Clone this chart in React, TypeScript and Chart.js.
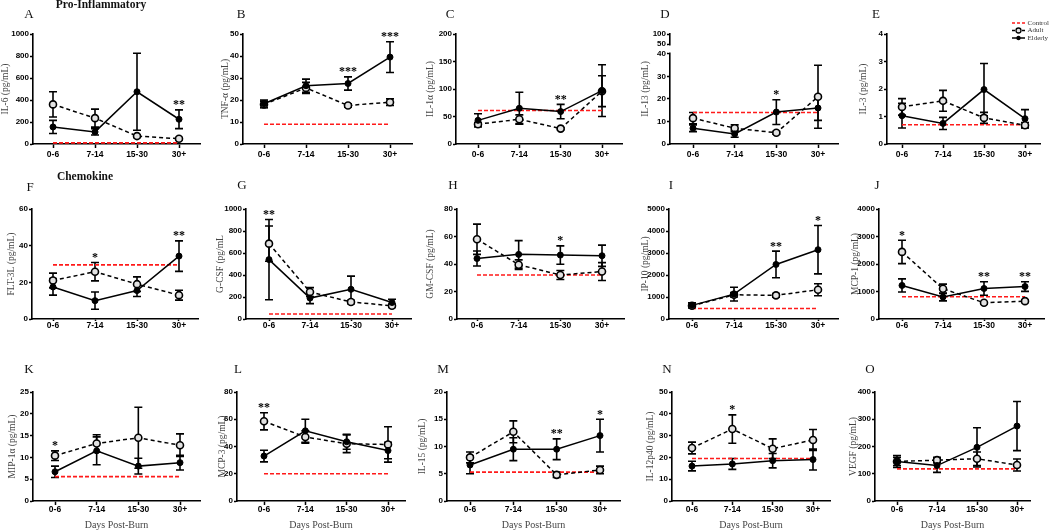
import React, { useEffect, useRef } from 'react';
import { Chart, registerables, LinearScale } from 'chart.js';

Chart.register(...registerables);

// ---------------- data ----------------
const CATEGORIES = ['0-6', '7-14', '15-30', '30+'];
const PANEL_LETTERS = ['A', 'B', 'C', 'D', 'E', 'F', 'G', 'H', 'I', 'J', 'K', 'L', 'M', 'N', 'O'];
const Y_TITLES = [
  'IL-6 (pg/mL)', 'TNF-α (pg/mL)', 'IL-1α (pg/mL)', 'IL-13 (pg/mL)', 'IL-3 (pg/mL)',
  'FLT-3L (pg/mL)', 'G-CSF (pg/mL', 'GM-CSF (pg/mL)', 'IP-10 (pg/mL)', 'MCP-1 (pg/mL)',
  'MIP-1α (pg/mL)', 'MCP-3 (pg/mL)', 'IL-15 (pg/mL)', 'IL-12p40 (pg/mL)', 'VEGF (pg/mL)',
];
const Y_MAX = [1000, 50, 200, 100, 4, 60, 1000, 80, 5000, 4000, 25, 80, 20, 50, 400];
const Y_STEP = [200, 10, 50, 10, 1, 20, 200, 20, 1000, 1000, 5, 20, 5, 10, 100];
const D_TICKS = [0, 10, 20, 30, 40, 50, 100];
const D_BREAK = [40, 50];

const ADULT_MEAN = [
  [360, 235, 72, 48],
  [18, 25.5, 17.5, 19],
  [36, 45, 28, 96],
  [11.5, 7, 5, 21],
  [1.35, 1.57, 0.95, 0.68],
  [21, 25.8, 19, 13],
  [685, 245, 155, 120],
  [58, 39.5, 32, 34.5],
  [600, 1100, 1075, 1330],
  [2440, 1100, 590, 650],
  [10.4, 13.2, 14.5, 12.8],
  [58.5, 47, 42, 41.5],
  [8, 12.7, 4.8, 5.7],
  [24.3, 33, 24, 28],
  [145, 150, 155, 132],
];
const ADULT_SEM = [
  [115, 82, 12, 10],
  [1.5, 2.5, 0.8, 1.5],
  [3, 8, 2, 28],
  [2.5, 1.5, 0.6, 14],
  [0.3, 0.38, 0.2, 0.1],
  [4, 5, 4, 2.7],
  [160, 40, 15, 15],
  [11, 3.5, 3.3, 6.5],
  [80, 100, 80, 270],
  [425, 170, 40, 50],
  [1.1, 2, 7, 2.6],
  [6.3, 4.5, 6.5, 13],
  [1, 2, 0.5, 0.7],
  [2.7, 6.5, 4.5, 4.8],
  [15, 10, 25, 22],
];
const ELDERLY_MEAN = [
  [155, 110, 475, 225],
  [18.3, 26.5, 27.5, 39.5],
  [43, 65, 59, 97],
  [7, 4.5, 14.2, 16],
  [1.03, 0.75, 1.98, 0.92],
  [17.5, 10, 15.5, 34.3],
  [540, 190, 270, 150],
  [44, 47, 46.5, 46],
  [620, 1130, 2480, 3150],
  [1220, 800, 1110, 1180],
  [6.7, 11.5, 8, 8.8],
  [33, 51.5, 43.5, 37],
  [6.6, 9.5, 9.5, 12],
  [16, 17, 18.5, 19],
  [145, 130, 197, 275],
];
const ELDERLY_SEM = [
  [60, 28, 350, 85],
  [1.7, 3, 3, 7],
  [12, 29, 13, 47],
  [1.5, 1.5, 5.5, 5.5],
  [0.45, 0.22, 0.95, 0.33],
  [4.5, 4.7, 3.2, 8.3],
  [365, 50, 120, 30],
  [5.5, 10, 6.7, 7.7],
  [120, 310, 605, 1100],
  [240, 140, 245, 175],
  [1.3, 3.2, 1.8, 1.7],
  [4.3, 8.5, 5.5, 6],
  [1.6, 2.1, 1.9, 3],
  [2.2, 2.5, 3.3, 4.8],
  [22, 25, 72, 90],
];
const CONTROL = [10, 9, 61, 14, 0.7, 29.5, 45, 32, 480, 810, 5.6, 20, 5.3, 19.5, 118];
const STARS = [
  ['', '', '', '**'],
  ['', '', '***', '***'],
  ['', '', '**', ''],
  ['', '', '*', ''],
  ['', '', '', ''],
  ['', '*', '', '**'],
  ['**', '', '', ''],
  ['', '', '*', ''],
  ['', '', '**', '*'],
  ['*', '', '**', '**'],
  ['*', '', '', ''],
  ['**', '', '', ''],
  ['', '', '**', '*'],
  ['', '*', '', ''],
  ['', '', '', ''],
];
const SECTION_TITLES = ['Pro-Inflammatory', 'Chemokine'];
const X_TITLE = 'Days Post-Burn';
const LEGEND_LABELS = ['Control', 'Adult', 'Elderly'];

// ---------------- layout / style ----------------
const SANS = "'Liberation Sans', Arial, Helvetica, sans-serif";
const SERIF = "'Liberation Serif', 'Times New Roman', Times, serif";
const W = 50; // y-axis box width
const PR = 12;
const PT = 22;
const ROW_TOP = [34, 209, 392];
const ROW_BOTTOM = [144, 319, 501];
const ROW_XAXIS_H = [22, 22, 34];
const ROW_XTICK_LEN = [4, 2, 4];
const ROW_XLABEL_PAD = [2, -0.5, 0];
// [axisX, firstCategoryX, lastCategoryX, axisEndX, yTitleDistance]
const GEOM = [
  [33, 53, 179, 200, 28],
  [243, 264, 390, 412, 18],
  [456, 478, 602, 622, 26],
  [670, 693, 818, 838, 25],
  [887, 902, 1025, 1040, 24],
  [32, 53, 179, 198, 21],
  [246, 269, 392, 411, 26],
  [457, 477, 602, 624, 27],
  [669, 692, 818, 838, 24],
  [879, 902, 1025, 1044, 24],
  [33, 55, 180, 200, 21],
  [237, 264, 388, 405, 15],
  [447, 470, 600, 620, 25],
  [672, 692, 813, 830, 22],
  [875, 897, 1017, 1030, 22],
];
const LETTER_POS = [
  [29, 13], [241, 12.5], [450, 12.5], [665, 12.5], [876, 12.5],
  [30, 186], [242, 184], [453, 184], [671, 184], [877, 184],
  [29, 368], [238, 368], [443, 368], [667, 368], [870, 368],
];
const SECTION_POS = [[101, 5], [85, 177]];
const BREAK_FRACS = [90 / 110, 100 / 110];

// --------------- broken y axis (panel D) ---------------
function brokenDecimal(v: number) {
  const [lo, hi] = D_BREAK;
  const [fLo, fHi] = BREAK_FRACS;
  const top = D_TICKS[D_TICKS.length - 1];
  if (v <= lo) return (v / lo) * fLo;
  if (v <= hi) return fLo + ((v - lo) / (hi - lo)) * (fHi - fLo);
  return fHi + ((v - hi) / (top - hi)) * (1 - fHi);
}
class BrokenLinearScale extends (LinearScale as any) {
  static id = 'brokenLinear';
  static defaults = (LinearScale as any).defaults;
  getPixelForValue(value: number) {
    if (value === null || value === undefined || isNaN(value)) return NaN;
    return (this as any).getPixelForDecimal(brokenDecimal(value));
  }
}
Chart.register(BrokenLinearScale as any);

// ---------------- plugins ----------------
function errorBarPlugin() {
  return {
    id: 'errorBars',
    beforeDatasetsDraw(chart: any) {
      const { ctx } = chart;
      const y = chart.scales.y;
      chart.data.datasets.forEach((ds: any, i: number) => {
        if (!ds.errors) return;
        const meta = chart.getDatasetMeta(i);
        ctx.save();
        ctx.strokeStyle = '#000';
        ctx.lineWidth = 1.6;
        ctx.setLineDash([]);
        meta.data.forEach((pt: any, j: number) => {
          const v = ds.data[j].y;
          const e = ds.errors[j];
          const x = pt.x;
          const yt = y.getPixelForValue(v + e);
          const yb = y.getPixelForValue(v - e);
          ctx.beginPath();
          ctx.moveTo(x, yt);
          ctx.lineTo(x, yb);
          ctx.moveTo(x - 4, yt);
          ctx.lineTo(x + 4, yt);
          ctx.moveTo(x - 4, yb);
          ctx.lineTo(x + 4, yb);
          ctx.stroke();
        });
        ctx.restore();
      });
    },
  };
}

function starsPlugin(stars: string[]) {
  return {
    id: 'stars',
    afterDatasetsDraw(chart: any) {
      const { ctx } = chart;
      const xs = chart.scales.x;
      const ys = chart.scales.y;
      ctx.save();
      ctx.fillStyle = '#000';
      ctx.font = `bold 12px ${SERIF}`;
      ctx.textAlign = 'center';
      ctx.textBaseline = 'alphabetic';
      stars.forEach((s, j) => {
        if (!s) return;
        let top = Infinity;
        chart.data.datasets.forEach((ds: any) => {
          if (!ds.errors) return;
          const v = ds.data[j].y + ds.errors[j];
          top = Math.min(top, ys.getPixelForValue(v));
        });
        ctx.fillText(s, xs.getPixelForValue(j), top - 1.5);
      });
      ctx.restore();
    },
  };
}

function axisBreakPlugin() {
  return {
    id: 'axisBreak',
    afterDraw(chart: any) {
      const { ctx, chartArea } = chart;
      const ys = chart.scales.y;
      const y1 = ys.getPixelForValue(D_BREAK[1]) + 1.5;
      const y2 = ys.getPixelForValue(D_BREAK[0]) - 1.5;
      ctx.save();
      ctx.fillStyle = '#fff';
      ctx.fillRect(chartArea.left - 2, y1, 4, y2 - y1);
      ctx.restore();
    },
  };
}

function legendPlugin() {
  return {
    id: 'cornerLegend',
    afterDraw(chart: any) {
      const { ctx, chartArea } = chart;
      const x0 = chartArea.right - 28;
      const x1 = chartArea.right - 15;
      const tx = chartArea.right - 12.5;
      const ys = [chartArea.top - 11, chartArea.top - 3.5, chartArea.top + 4];
      ctx.save();
      LEGEND_LABELS.forEach((label, i) => {
        const y = ys[i];
        ctx.beginPath();
        ctx.lineWidth = 1.5;
        ctx.strokeStyle = i === 0 ? '#ff1a1a' : '#000';
        ctx.setLineDash(i === 2 ? [] : [3, 2]);
        ctx.moveTo(x0, y);
        ctx.lineTo(x1, y);
        ctx.stroke();
        ctx.setLineDash([]);
        if (i === 1) {
          ctx.beginPath();
          ctx.arc((x0 + x1) / 2, y, 2.5, 0, Math.PI * 2);
          ctx.fillStyle = '#e2e2e2';
          ctx.fill();
          ctx.lineWidth = 1.3;
          ctx.stroke();
        } else if (i === 2) {
          ctx.beginPath();
          ctx.arc((x0 + x1) / 2, y, 2.2, 0, Math.PI * 2);
          ctx.fillStyle = '#000';
          ctx.fill();
        }
        ctx.fillStyle = '#333';
        ctx.font = `7px ${SERIF}`;
        ctx.textAlign = 'left';
        ctx.textBaseline = 'middle';
        ctx.fillText(label, tx, y);
      });
      ctx.restore();
    },
  };
}

function panelBox(p: number) {
  const row = Math.floor(p / 5);
  const [axisX, , , end] = GEOM[p];
  const left = axisX - W;
  const top = ROW_TOP[row] - PT;
  const w = end - axisX + W + PR;
  const h = ROW_BOTTOM[row] - ROW_TOP[row] + PT + ROW_XAXIS_H[row];
  return { left, top, w, h };
}

function buildConfig(p: number): any {
  const row = Math.floor(p / 5);
  const [axisX, first, last, end, titleDist] = GEOM[p];
  const step = (last - first) / 3;
  const xMin = -(first - axisX) / step;
  const xMax = 3 + (end - last) / step;
  const isBroken = p === 3;
  const toPts = (arr: number[]) => arr.map((v, i) => ({ x: i, y: v }));
  const plugins: any[] = [errorBarPlugin(), starsPlugin(STARS[p])];
  if (isBroken) plugins.push(axisBreakPlugin());
  if (p === 4) plugins.push(legendPlugin());
  return {
    type: 'line',
    data: {
      datasets: [
        {
          label: 'Elderly', data: toPts(ELDERLY_MEAN[p]), errors: ELDERLY_SEM[p],
          borderColor: '#000', borderWidth: 1.5, pointRadius: 3, pointBackgroundColor: '#000',
          pointBorderColor: '#000', pointBorderWidth: 1, tension: 0, order: 0, clip: false,
        },
        {
          label: 'Adult', data: toPts(ADULT_MEAN[p]), errors: ADULT_SEM[p],
          borderColor: '#000', borderDash: [4, 3], borderWidth: 1.5, pointRadius: 3.5,
          pointBackgroundColor: '#e2e2e2', pointBorderColor: '#000', pointBorderWidth: 1.6,
          tension: 0, order: 1, clip: false,
        },
        {
          label: 'Control', data: [{ x: 0, y: CONTROL[p] }, { x: 3, y: CONTROL[p] }],
          borderColor: '#ff1a1a', borderDash: [4, 2], borderWidth: 1.6, pointRadius: 0,
          order: 2, clip: false,
        },
      ],
    },
    options: {
      animation: false,
      responsive: false,
      events: [],
      layout: { padding: { top: PT, right: PR, left: 0, bottom: 0 } },
      plugins: { legend: { display: false }, tooltip: { enabled: false } },
      scales: {
        x: {
          type: 'linear', min: xMin, max: xMax,
          afterBuildTicks: (s: any) => { s.ticks = CATEGORIES.map((_, i) => ({ value: i })); },
          afterFit: (s: any) => { s.height = ROW_XAXIS_H[row]; },
          ticks: {
            callback: (v: any) => CATEGORIES[v] ?? '',
            font: { family: SANS, size: 8.5, weight: 'bold' }, color: '#000',
            padding: ROW_XLABEL_PAD[row], maxRotation: 0, autoSkip: false,
          },
          grid: {
            drawOnChartArea: false, drawTicks: true, tickLength: ROW_XTICK_LEN[row], tickWidth: 1.5,
            tickColor: '#000', color: '#000',
          },
          border: { display: true, color: '#000', width: 1.6 },
          title: {
            display: row === 2, text: X_TITLE, font: { family: SERIF, size: 10 }, color: '#444',
            padding: { top: 0, bottom: 3.2 },
          },
        },
        y: {
          type: isBroken ? 'brokenLinear' : 'linear', min: 0, max: Y_MAX[p],
          afterBuildTicks: isBroken ? (s: any) => { s.ticks = D_TICKS.map((v) => ({ value: v })); } : undefined,
          afterFit: (s: any) => { s.width = W; },
          ticks: {
            stepSize: Y_STEP[p], callback: (v: any) => String(v),
            font: { family: SANS, size: 8, weight: 'bold' }, color: '#000', padding: 1,
          },
          grid: { drawOnChartArea: false, drawTicks: true, tickLength: 3, tickWidth: 1.5, tickColor: '#000', color: '#000' },
          border: { display: true, color: '#000', width: 1.6 },
          title: {
            display: true, text: Y_TITLES[p], font: { family: SERIF, size: 9.5 }, color: '#444',
            padding: { top: Math.max(0, W - titleDist - 5.7), bottom: 0 },
          },
        },
      },
    },
    plugins,
  };
}

export default function App() {
  const refs = useRef<(HTMLCanvasElement | null)[]>([]);
  useEffect(() => {
    const charts = PANEL_LETTERS.map((_, p) => new Chart(refs.current[p] as HTMLCanvasElement, buildConfig(p)));
    return () => charts.forEach((c) => c.destroy());
  }, []);
  return (
    <div style={{ position: 'absolute', left: 0, top: 0, width: 1050, height: 531, overflow: 'hidden', background: '#fff' }}>
      {PANEL_LETTERS.map((_, p) => {
        const b = panelBox(p);
        return (
          <canvas
            key={`c${p}`}
            ref={(el) => { refs.current[p] = el; }}
            width={b.w}
            height={b.h}
            style={{ position: 'absolute', left: b.left, top: b.top, width: b.w, height: b.h }}
          />
        );
      })}
      {PANEL_LETTERS.map((l, p) => (
        <div
          key={`l${p}`}
          style={{
            position: 'absolute', left: LETTER_POS[p][0], top: LETTER_POS[p][1], transform: 'translate(-50%, -50%)',
            fontFamily: SERIF, fontSize: 13, lineHeight: 1, color: '#111', whiteSpace: 'nowrap',
          }}
        >
          {l}
        </div>
      ))}
      {SECTION_TITLES.map((t, i) => (
        <div
          key={`s${i}`}
          style={{
            position: 'absolute', left: SECTION_POS[i][0], top: SECTION_POS[i][1], transform: 'translate(-50%, -50%)',
            fontFamily: SERIF, fontSize: 11.5, fontWeight: 'bold', lineHeight: 1, color: '#111', whiteSpace: 'nowrap',
          }}
        >
          {t}
        </div>
      ))}
    </div>
  );
}
